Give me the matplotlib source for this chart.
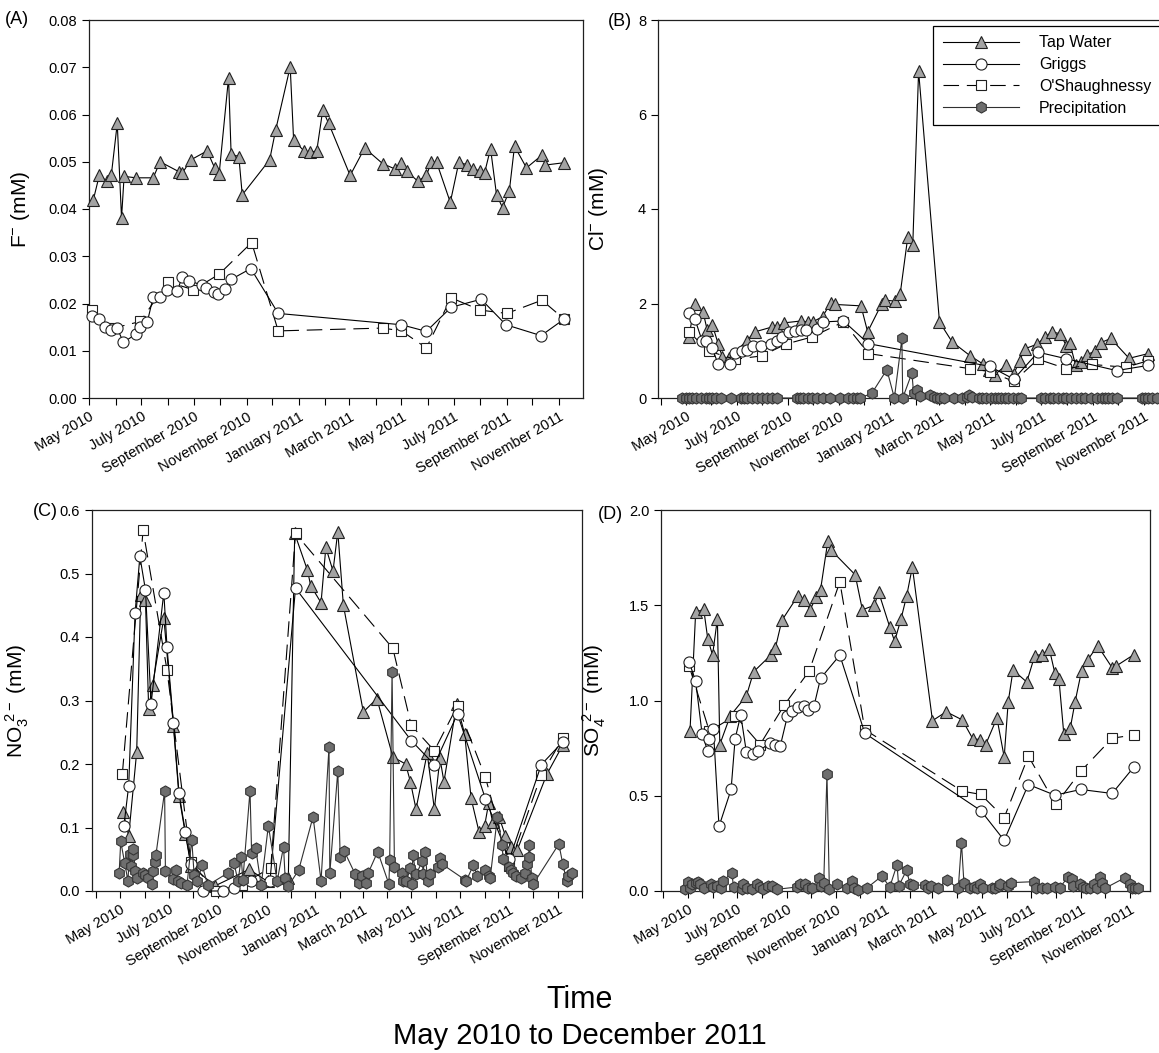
import matplotlib
matplotlib.use("Agg")
import matplotlib.pyplot as plt
import matplotlib.dates as mdates
from matplotlib.ticker import FuncFormatter
import numpy as np

plt.rcParams['font.family'] = ['Liberation Sans', 'DejaVu Sans']
plt.rcParams['mathtext.fontset'] = 'custom'
plt.rcParams['mathtext.rm'] = 'Liberation Sans'
plt.rcParams['mathtext.default'] = 'regular'

# sample dates are given as days after 1 May 2010
START = np.datetime64('2010-05-01')

# ---------------- (A) fluoride ----------------
a_tap_day = [5, 12, 21, 26, 33, 38, 41, 55, 75, 83, 105, 109, 119, 138, 147, 152, 163, 166, 175, 179,
             211, 218, 235, 239, 251, 258, 266, 273, 280, 305, 322, 343, 357, 364, 371, 384, 394, 400, 406, 422,
             432, 441, 449, 457, 462, 469, 476, 483, 491, 497, 511, 529, 533, 555]
a_tap = [0.0419, 0.0471, 0.0459, 0.0471, 0.0581, 0.0381, 0.0469, 0.0466, 0.0466, 0.0500,
         0.0479, 0.0476, 0.0504, 0.0523, 0.0486, 0.0474, 0.0678, 0.0516, 0.0511, 0.0430,
         0.0504, 0.0567, 0.0701, 0.0546, 0.0523, 0.0520, 0.0523, 0.0609, 0.0581, 0.0471,
         0.0529, 0.0496, 0.0485, 0.0498, 0.0480, 0.0459, 0.0471, 0.0499, 0.0499, 0.0414,
         0.0499, 0.0494, 0.0484, 0.0481, 0.0476, 0.0528, 0.0430, 0.0403, 0.0439, 0.0533,
         0.0487, 0.0514, 0.0493, 0.0498]
a_griggs_day = [4, 12, 19, 26, 33, 40, 55, 60, 68, 75, 83, 91, 103, 109, 117, 132, 137, 146, 151, 159,
                166, 189, 221, 365, 394, 423, 458, 487, 528, 555]
a_griggs = [0.0173, 0.0167, 0.0151, 0.0143, 0.0148, 0.0118, 0.0135, 0.0151, 0.0160, 0.0214,
            0.0214, 0.0229, 0.0226, 0.0257, 0.0248, 0.0239, 0.0232, 0.0225, 0.0221, 0.0230,
            0.0251, 0.0274, 0.0179, 0.0155, 0.0141, 0.0192, 0.0209, 0.0155, 0.0132, 0.0167]
a_osh_day = [4, 29, 60, 92, 122, 152, 190, 221, 343, 365, 394, 423, 457, 488, 529, 555]
a_osh = [0.0186, 0.0148, 0.0162, 0.0246, 0.0229, 0.0262, 0.0329, 0.0142,
         0.0148, 0.0142, 0.0106, 0.0212, 0.0186, 0.0179, 0.0207, 0.0167]

# ---------------- (B) chloride ----------------
b_tap_day = [4, 11, 21, 26, 32, 39, 44, 52, 73, 83, 103, 109, 118, 138, 147, 152, 164, 174, 179, 210,
             218, 235, 239, 251, 257, 266, 272, 279, 304, 319, 341, 356, 363, 370, 384, 393, 400, 406, 421, 430,
             439, 448, 456, 460, 467, 474, 481, 490, 497, 509, 531, 554]
b_tap = [1.29, 2.00, 1.82, 1.43, 1.55, 1.15, 0.87, 0.84, 1.21, 1.40,
         1.50, 1.50, 1.59, 1.63, 1.61, 1.61, 1.72, 2.02, 1.98, 1.95,
         1.40, 2.00, 2.07, 2.05, 2.21, 3.40, 3.23, 6.92, 1.61, 1.19,
         0.89, 0.72, 0.60, 0.49, 0.70, 0.51, 0.79, 1.04, 1.14, 1.29,
         1.40, 1.36, 1.11, 1.17, 0.69, 0.76, 0.92, 0.99, 1.17, 1.26,
         0.84, 0.94]
b_griggs_day = [4, 11, 20, 25, 32, 39, 53, 59, 67, 73, 81, 90, 102, 109, 116, 124, 131, 138, 144, 157,
                164, 189, 219, 364, 393, 422, 456, 516, 554]
b_griggs = [1.79, 1.68, 1.20, 1.20, 1.06, 0.71, 0.71, 0.96, 0.99, 1.01,
            1.10, 1.10, 1.14, 1.21, 1.29, 1.40, 1.41, 1.43, 1.43, 1.47,
            1.61, 1.63, 1.15, 0.67, 0.40, 0.97, 0.83, 0.58, 0.69]
b_osh_day = [4, 28, 59, 91, 120, 151, 189, 219, 341, 364, 393, 422, 456, 487, 527, 554]
b_osh = [1.40, 0.99, 0.82, 0.89, 1.14, 1.29, 1.61, 0.94, 0.62, 0.56, 0.35, 0.82, 0.62, 0.71, 0.65, 0.79]
b_precip_day = [-4, 0, 4, 8, 12, 18, 24, 28, 32, 36, 42, 54, 66, 70, 74, 80, 86, 92, 98, 104,
                110, 133, 137, 141, 147, 151, 157, 165, 173, 185, 195, 201, 205, 209, 223, 241, 250, 259, 260, 271,
                273, 277, 281, 293, 297, 301, 305, 309, 321, 331, 337, 339, 343, 351, 355, 360, 366, 370, 374, 378,
                382, 386, 392, 398, 402, 426, 430, 436, 440, 446, 452, 456, 462, 468, 474, 478, 486, 492, 498, 502,
                506, 510, 516, 546, 550, 554, 558, 564]
b_precip = [0, 0, 0, 0, 0, 0, 0, 0, 0, 0, 0, 0, 0, 0, 0, 0, 0, 0, 0, 0,
            0, 0, 0, 0, 0, 0, 0, 0, 0, 0, 0, 0, 0, 0, 0.10, 0.60, 0, 1.26, 0, 0.53,
            0.10, 0.16, 0.05, 0.06, 0.02, 0, 0, 0, 0, 0, 0.03, 0.07, 0.02, 0, 0, 0, 0, 0, 0, 0,
            0, 0, 0, 0, 0, 0, 0, 0, 0, 0, 0, 0, 0, 0, 0, 0, 0, 0, 0, 0,
            0, 0, 0, 0, 0, 0, 0, 0]

# ---------------- (C) nitrate ----------------
c_tap_day = [4, 11, 21, 26, 32, 36, 41, 55, 67, 74, 82, 89, 119, 162, 185, 211,
             219, 235, 239, 252, 258, 267, 273, 280, 305, 322, 342, 358, 364, 371, 385, 394, 401, 406, 422, 432,
             440, 450, 457, 462, 467, 475, 483, 490, 498, 535, 555]
c_tap = [0.124, 0.087, 0.219, 0.466, 0.458, 0.287, 0.325, 0.430, 0.260, 0.150, 0.090, 0.040, 0.008, 0.034, 0.015, 0.021,
         0.563, 0.505, 0.481, 0.454, 0.541, 0.504, 0.566, 0.450, 0.282, 0.303, 0.211, 0.200, 0.172, 0.129, 0.217, 0.129,
         0.209, 0.172, 0.295, 0.247, 0.146, 0.093, 0.103, 0.138, 0.109, 0.117, 0.087, 0.069, 0.065, 0.184, 0.230]
c_griggs_day = [5, 11, 19, 25, 32, 39, 55, 59, 67, 74, 82, 89, 104, 129, 143, 164, 188,
                220, 365, 394, 423, 458, 488, 528, 555]
c_griggs = [0.103, 0.166, 0.438, 0.527, 0.474, 0.295, 0.470, 0.384, 0.265, 0.154, 0.093, 0.042, 0.0, 0.0, 0.004,
            0.015, 0.015, 0.477, 0.237, 0.199, 0.279, 0.145, 0.050, 0.199, 0.235]
c_osh_day = [3, 29, 59, 89, 120, 153, 189, 220, 342, 365, 394, 423, 458, 488, 528, 555]
c_osh = [0.184, 0.568, 0.348, 0.045, 0.0, 0.010, 0.037, 0.563, 0.382, 0.261, 0.221, 0.292, 0.179, 0.040, 0.183, 0.241]
c_precip_day = [-1, 1, 6, 10, 12, 14, 16, 17, 19, 21, 29, 32, 35, 40, 42, 44, 45, 56, 57, 67,
                70, 73, 77, 84, 90, 93, 97, 103, 110, 136, 143, 148, 152, 154, 163, 165, 170, 177, 186, 197,
                205, 207, 211, 224, 242, 252, 262, 263, 273, 276, 281, 295, 300, 303, 308, 311, 323, 337, 338, 341,
                344, 353, 355, 359, 364, 366, 367, 371, 379, 380, 382, 386, 389, 398, 401, 404, 432, 434, 443, 448,
                457, 462, 464, 473, 479, 480, 487, 490, 493, 496, 502, 508, 510, 512, 513, 516, 518, 550, 555, 560,
                562, 567]
c_precip = [0.028, 0.078, 0.044, 0.016, 0.059, 0.040, 0.057, 0.066, 0.031, 0.020,
            0.028, 0.025, 0.021, 0.011, 0.031, 0.046, 0.056, 0.157, 0.031, 0.019,
            0.033, 0.015, 0.012, 0.009, 0.081, 0.025, 0.015, 0.041, 0.009, 0.029,
            0.044, 0.015, 0.053, 0.017, 0.158, 0.060, 0.068, 0.009, 0.103, 0.015,
            0.070, 0.021, 0.008, 0.033, 0.117, 0.016, 0.227, 0.028, 0.189, 0.054,
            0.063, 0.026, 0.012, 0.023, 0.012, 0.028, 0.062, 0.011, 0.049, 0.345,
            0.038, 0.028, 0.016, 0.016, 0.036, 0.011, 0.057, 0.026, 0.047, 0.026,
            0.061, 0.015, 0.026, 0.038, 0.052, 0.042, 0.018, 0.016, 0.041, 0.023,
            0.033, 0.024, 0.021, 0.117, 0.073, 0.051, 0.038, 0.033, 0.028, 0.024,
            0.020, 0.028, 0.042, 0.053, 0.072, 0.021, 0.011, 0.074, 0.042, 0.015,
            0.023, 0.029]

# ---------------- (D) sulfate ----------------
d_tap_day = [3, 10, 20, 25, 31, 37, 40, 53, 73, 82, 104, 109, 117, 137, 145, 152, 160, 165, 174, 178,
             208, 217, 232, 237, 251, 257, 265, 272, 279, 304, 321, 341, 354, 363, 370, 384, 393, 398, 404, 421,
             431, 440, 449, 456, 461, 467, 475, 481, 489, 497, 509, 527, 532, 554]
d_tap = [0.839, 1.462, 1.480, 1.325, 1.238, 1.429, 0.769, 0.920, 1.024, 1.151,
         1.241, 1.276, 1.420, 1.550, 1.528, 1.476, 1.545, 1.580, 1.835, 1.790,
         1.660, 1.476, 1.500, 1.571, 1.385, 1.311, 1.429, 1.550, 1.701, 0.894,
         0.941, 0.898, 0.799, 0.795, 0.769, 0.908, 0.703, 0.993, 1.160, 1.097,
         1.236, 1.241, 1.271, 1.142, 1.111, 0.825, 0.854, 0.993, 1.155, 1.215,
         1.288, 1.172, 1.181, 1.241]
d_griggs_day = [2, 10, 18, 25, 27, 32, 39, 54, 59, 66, 73, 81, 88, 102, 109, 115, 124, 130, 137, 144,
                150, 157, 165, 189, 220, 364, 393, 423, 456, 488, 527, 554]
d_griggs = [1.201, 1.102, 0.825, 0.734, 0.799, 0.851, 0.339, 0.533, 0.799, 0.924,
            0.729, 0.720, 0.734, 0.776, 0.767, 0.760, 0.920, 0.946, 0.964, 0.969,
            0.951, 0.972, 1.116, 1.238, 0.828, 0.422, 0.266, 0.559, 0.503, 0.533,
            0.512, 0.651]
d_osh_day = [2, 27, 59, 90, 120, 151, 189, 220, 341, 364, 393, 423, 457, 488, 527, 554]
d_osh = [1.180, 0.839, 0.920, 0.769, 0.976, 1.155, 1.623, 0.847, 0.524, 0.507, 0.385, 0.708, 0.455, 0.628, 0.802, 0.819]
d_precip_day = [-3, 0, 3, 6, 10, 13, 16, 20, 29, 32, 36, 41, 44, 55, 57, 67, 69, 74, 80, 86,
                90, 94, 100, 105, 111, 136, 140, 146, 150, 154, 163, 165, 169, 173, 176, 186, 198, 204, 207, 212,
                223, 241, 251, 260, 262, 272, 276, 280, 295, 299, 302, 311, 322, 336, 340, 343, 351, 355, 359, 363,
                367, 378, 382, 386, 388, 398, 402, 430, 433, 440, 446, 456, 462, 472, 477, 479, 487, 491, 495, 500,
                505, 508, 512, 514, 518, 543, 549, 552, 556, 559]
d_precip = [0.009, 0.049, 0.017, 0.035, 0.044, 0.049, 0.038, 0.014, 0.035, 0.021,
            0.026, 0.014, 0.052, 0.096, 0.021, 0.009, 0.035, 0.017, 0.009, 0.035,
            0.021, 0.009, 0.026, 0.026, 0.009, 0.021, 0.035, 0.035, 0.014, 0.017,
            0.066, 0.026, 0.044, 0.613, 0.009, 0.035, 0.014, 0.052, 0.017, 0.003,
            0.017, 0.078, 0.021, 0.139, 0.026, 0.110, 0.035, 0.031, 0.031, 0.017,
            0.026, 0.014, 0.057, 0.014, 0.252, 0.044, 0.017, 0.021, 0.014, 0.035,
            0.017, 0.017, 0.014, 0.026, 0.035, 0.026, 0.044, 0.049, 0.014, 0.017,
            0.017, 0.021, 0.017, 0.073, 0.061, 0.026, 0.035, 0.021, 0.014, 0.017,
            0.035, 0.017, 0.073, 0.044, 0.014, 0.070, 0.035, 0.017, 0.014, 0.017]

series_names = ['Tap Water', 'Griggs', "O'Shaughnessy", 'Precipitation']


def to_dates(days):
    return START + np.array(days).astype('timedelta64[D]')


def sorted_xy(days, vals):
    order = np.argsort(days, kind='stable')
    return to_dates(np.array(days)[order]), np.array(vals)[order]


tap_kw = dict(color='black', lw=0.8, marker='^', ms=8, mfc='#a3a3a3', mec='#202020', mew=0.8)
griggs_kw = dict(color='black', lw=0.8, marker='o', ms=8, mfc='white', mec='#202020', mew=0.8)
osh_kw = dict(color='black', lw=0.8, marker='s', ms=7, mfc='white', mec='#202020', mew=0.8,
              ls=(0, (14, 7)))
precip_kw = dict(color='#303030', lw=0.8, marker='h', ms=8, mfc='#6e6e6e', mec='#353535', mew=0.8)


def month_label(x, pos):
    d = mdates.num2date(x)
    return d.strftime('%B %Y') if d.month % 2 == 1 else ''


def style(ax, xstart, xend, ylim, yticks, yfmt):
    ax.set_xlim(np.datetime64(xstart), np.datetime64(xend))
    ax.set_ylim(*ylim)
    ax.set_yticks(yticks)
    ax.yaxis.set_major_formatter(FuncFormatter(lambda v, p: yfmt.format(v)))
    ax.xaxis.set_major_locator(mdates.MonthLocator())
    ax.xaxis.set_major_formatter(FuncFormatter(month_label))
    ax.tick_params(direction='out', length=5, width=0.8, labelsize=10.5, top=False, right=False)
    for lab in ax.get_xticklabels():
        lab.set_rotation(30)
        lab.set_ha('right')
        lab.set_rotation_mode('anchor')
    for s in ax.spines.values():
        s.set_linewidth(0.9)
        s.set_color('#202020')


W, H = 1159, 1053
fig = plt.figure(figsize=(W / 100, H / 100), dpi=100)


def add_axes(left, right, top, bottom):
    return fig.add_axes([left / W, 1 - bottom / H, (right - left) / W, (bottom - top) / H])


axA = add_axes(89, 583, 20, 398)
axB = add_axes(658, 1165, 20, 398)
axC = add_axes(92, 582, 510, 891)
axD = add_axes(661, 1150, 510, 891)

# (A)
axA.plot(*sorted_xy(a_tap_day, a_tap), clip_on=False, zorder=3, **tap_kw)
axA.plot(*sorted_xy(a_osh_day, a_osh), clip_on=False, zorder=3, **osh_kw)
axA.plot(*sorted_xy(a_griggs_day, a_griggs), clip_on=False, zorder=4, **griggs_kw)
style(axA, '2010-05-01', '2011-11-29', (0, 0.08), np.arange(0, 0.081, 0.01), '{:.2f}')
axA.set_ylabel('F$^{-}$ (mM)', fontsize=15)
axA.yaxis.set_label_coords(-0.115, 0.5)

# (B)
lines = []
lines += axB.plot(*sorted_xy(b_tap_day, b_tap), clip_on=False, zorder=3, label=series_names[0], **tap_kw)
lines += axB.plot(*sorted_xy(b_griggs_day, b_griggs), clip_on=False, zorder=4, label=series_names[1], **griggs_kw)
lines += axB.plot(*sorted_xy(b_osh_day, b_osh), clip_on=False, zorder=3, label=series_names[2], **osh_kw)
lines += axB.plot(*sorted_xy(b_precip_day, b_precip), clip_on=False, zorder=5, label=series_names[3], **precip_kw)
style(axB, '2010-03-29', '2011-11-26', (0, 8), [0, 2, 4, 6, 8], '{:.0f}')
axB.set_ylabel('Cl$^{-}$ (mM)', fontsize=15)
axB.yaxis.set_label_coords(-0.095, 0.5)
leg = axB.legend(handles=lines, loc='upper right', bbox_to_anchor=(1.0, 0.995), borderaxespad=0.25,
                 fontsize=11.5, handlelength=4.8, handletextpad=1.25, labelspacing=0.42,
                 fancybox=False, edgecolor='black', framealpha=1, borderpad=0.6)
leg.get_frame().set_linewidth(0.9)
leg.set_zorder(10)

# (C)
axC.plot(*sorted_xy(c_tap_day, c_tap), clip_on=False, zorder=3, **tap_kw)
axC.plot(*sorted_xy(c_osh_day, c_osh), clip_on=False, zorder=3, **osh_kw)
axC.plot(*sorted_xy(c_griggs_day, c_griggs), clip_on=False, zorder=4, **griggs_kw)
axC.plot(*sorted_xy(c_precip_day, c_precip), clip_on=False, zorder=5, **precip_kw)
style(axC, '2010-03-27', '2011-12-01', (0, 0.6), np.arange(0, 0.61, 0.1), '{:.1f}')
axC.set_ylabel('NO$_3^{\\ 2-}$ (mM)', fontsize=15)
axC.yaxis.set_label_coords(-0.125, 0.5)

# (D)
axD.plot(*sorted_xy(d_tap_day, d_tap), clip_on=False, zorder=3, **tap_kw)
axD.plot(*sorted_xy(d_osh_day, d_osh), clip_on=False, zorder=3, **osh_kw)
axD.plot(*sorted_xy(d_griggs_day, d_griggs), clip_on=False, zorder=4, **griggs_kw)
axD.plot(*sorted_xy(d_precip_day, d_precip), clip_on=False, zorder=5, **precip_kw)
style(axD, '2010-03-29', '2011-11-26', (0, 2.0), np.arange(0, 2.01, 0.5), '{:.1f}')
axD.set_ylabel('SO$_4^{\\ 2-}$ (mM)', fontsize=15)
axD.yaxis.set_label_coords(-0.108, 0.5)

# panel letters
fig.text(5 / W, 1 - 20 / H, '(A)', fontsize=13, va='center')
fig.text(608 / W, 1 - 22 / H, '(B)', fontsize=13, va='center')
fig.text(33 / W, 1 - 512 / H, '(C)', fontsize=13, va='center')
fig.text(598 / W, 1 - 514 / H, '(D)', fontsize=13, va='center')

narrow = ['Liberation Sans Narrow', 'Liberation Sans', 'DejaVu Sans']
fig.text(0.5, 1 - 1000 / H, 'Time', fontsize=22, ha='center', va='center', family=narrow)
fig.text(0.5, 1 - 1036 / H, 'May 2010 to December 2011', fontsize=21, ha='center', va='center', family=narrow)

fig.savefig('out.png', dpi=100)
